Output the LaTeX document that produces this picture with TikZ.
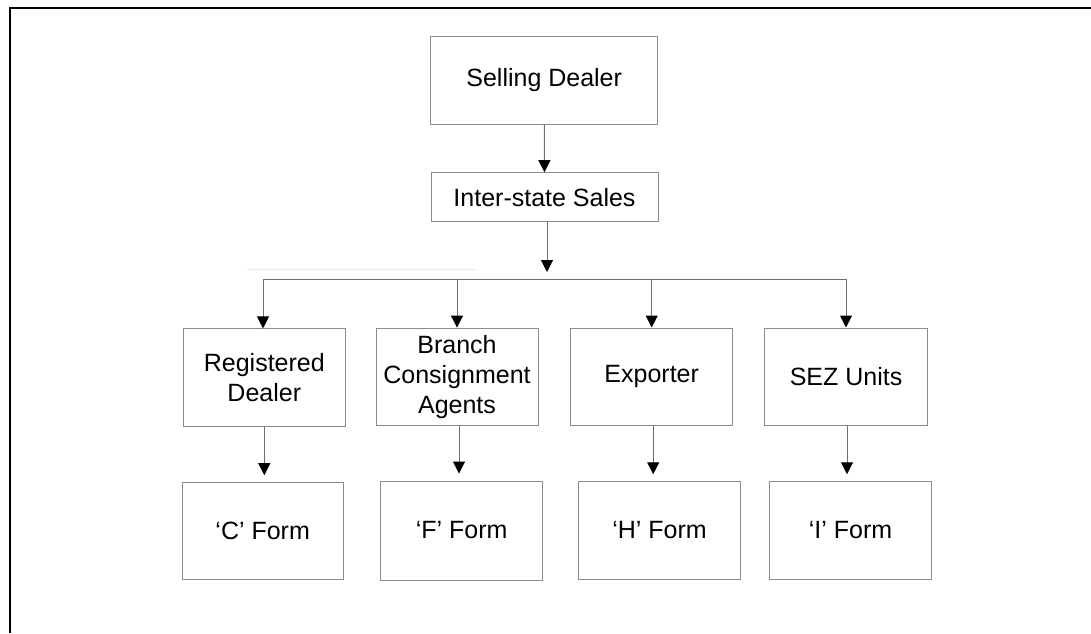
\documentclass[tikz,border=0pt]{standalone}
\usepackage{fontspec}
\setmainfont{Liberation Sans}
\usetikzlibrary{arrows.meta}
\definecolor{boxline}{HTML}{8C8C8C}
\definecolor{conline}{HTML}{6E6E6E}
\tikzset{
  box/.style={draw=boxline, line width=1pt, rectangle, inner sep=0pt, align=center,
    font=\fontsize{25}{30}\selectfont, text=black},
  conn/.style={draw=conline, line width=1pt, -{Triangle[length=12pt,width=12pt,color=black,fill=black]}},
}
\begin{document}
\begin{tikzpicture}[x=1pt,y=-1pt]
\useasboundingbox (0,0) rectangle (1091,633);
% outer frame (top and left edges visible)
\draw[line width=2pt, black] (9.5,633) -- (9.5,7.5) -- (1091,7.5);
% faint artefact line
\draw[gray!15, line width=0.8pt] (247,269) -- (477,269);

\node[box, minimum width=227pt, minimum height=88pt] (sd) at (544.2,80) {Selling Dealer};
\node[box, minimum width=227pt, minimum height=49pt] (is) at (544.5,197.2) {Inter-state Sales};

\node[box, minimum width=162pt, minimum height=97.7pt] (rd)  at (264.3,377.8) {Registered\\Dealer};
\node[box, minimum width=162pt, minimum height=97.3pt] (bca) at (457,376.7) {Branch\\Consignment\\Agents};
\node[box, minimum width=162pt, minimum height=97pt] (ex)  at (651.7,376.5) {Exporter};
\node[box, minimum width=162.6pt, minimum height=97pt] (sez) at (846,376.5) {SEZ Units};

\node[box, minimum width=161.3pt, minimum height=97.3pt] (cf) at (262.7,531.3) {‘C’ Form};
\node[box, minimum width=162pt, minimum height=99pt] (ff) at (461.7,530.5) {‘F’ Form};
\node[box, minimum width=162.4pt, minimum height=97.3pt] (hf) at (659.5,530.4) {‘H’ Form};
\node[box, minimum width=162.4pt, minimum height=97.3pt] (if) at (850.5,530.4) {‘I’ Form};

\coordinate (tip) at (547,272);
\coordinate (busL) at (263,279.3);
\coordinate (busR) at (846,279.3);

\draw[conn] (sd) -- (is);
\draw[conn] (is.south -| tip) -- (tip);
\draw[draw=conline, line width=1pt] (busL) -- (busR);
\draw[conn] (busL) -- (busL |- rd.north);
\draw[conn] (bca.north |- busL) -- (bca.north);
\draw[conn] (ex.north |- busL) -- (ex.north);
\draw[conn] (busR) -- (busR |- sez.north);

\draw[conn, shorten >=7pt] (rd.south) -- (rd.south |- cf.north);
\draw[conn, shorten >=7pt] ([xshift=2pt]bca.south) -- ([xshift=2pt]bca.south |- ff.north);
\draw[conn, shorten >=7pt] ([xshift=1.5pt]ex.south) -- ([xshift=1.5pt]ex.south |- hf.north);
\draw[conn, shorten >=7pt] ([xshift=1pt]sez.south) -- ([xshift=1pt]sez.south |- if.north);
\end{tikzpicture}
\end{document}
